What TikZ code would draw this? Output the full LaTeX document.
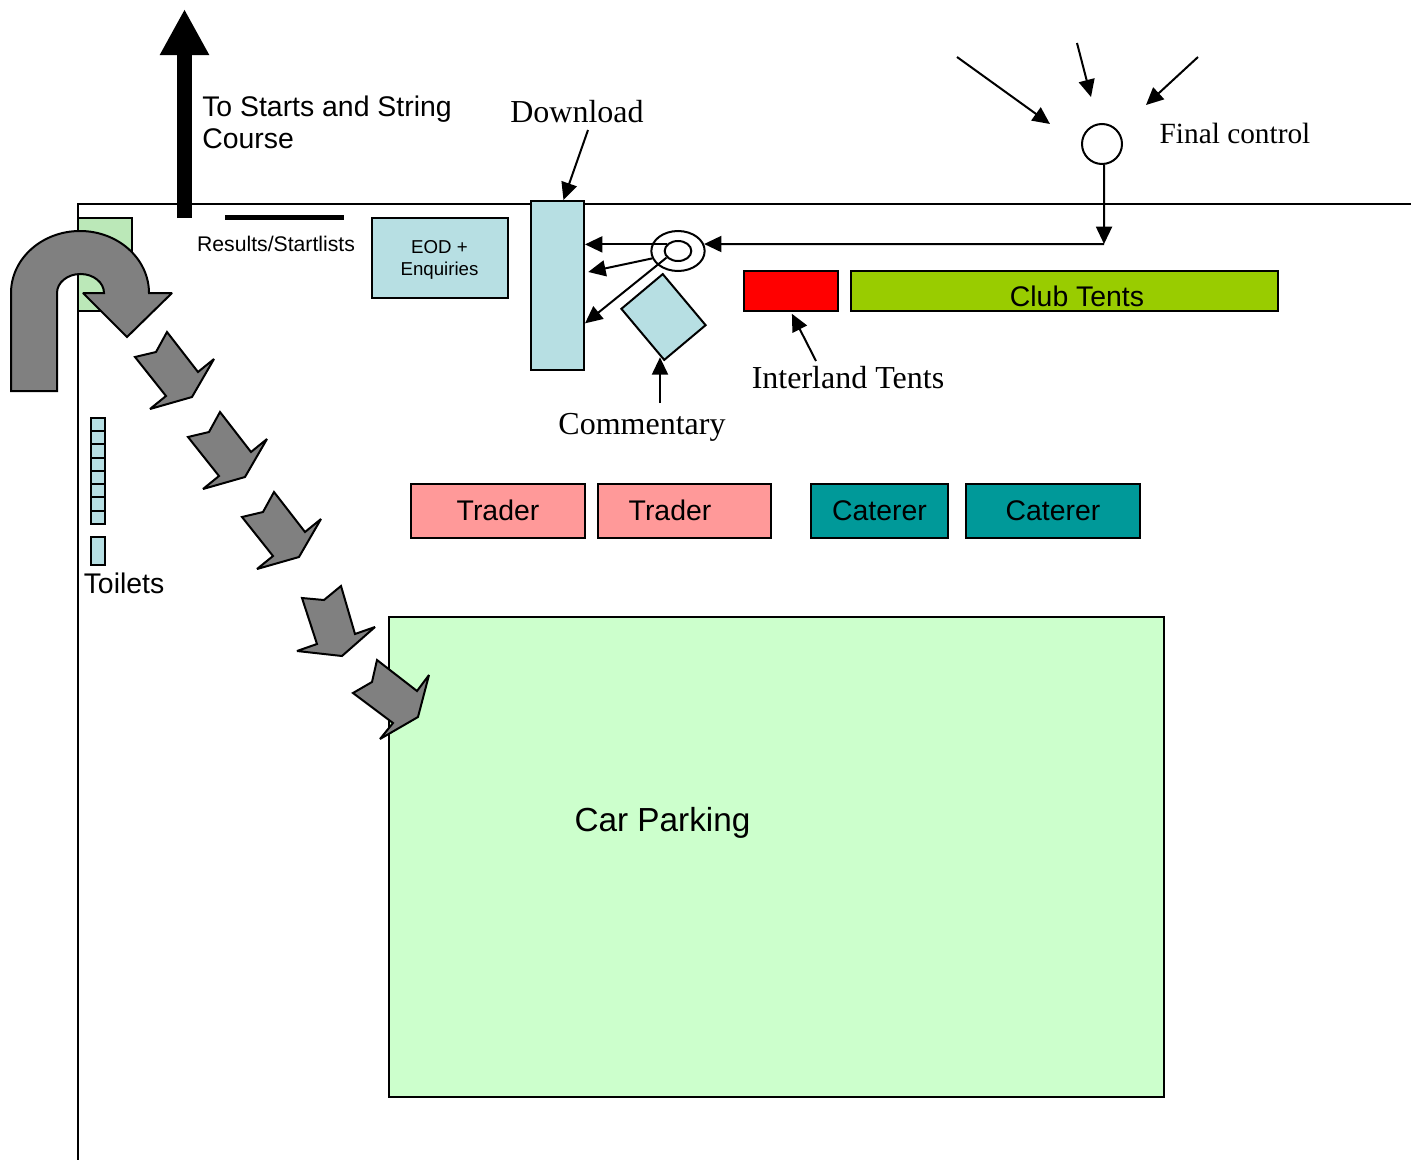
\documentclass[tikz,border=0pt]{standalone}
\usepackage{fontspec}
\setmainfont{Liberation Serif}
\setsansfont{Liberation Sans}
\usetikzlibrary{positioning, arrows.meta, shapes.geometric}
\definecolor{TentBlue}{RGB}{183,223,227}
\definecolor{EntryGreen}{RGB}{187,232,184}
\definecolor{ParkGreen}{RGB}{204,255,204}
\definecolor{ClubGreen}{RGB}{153,204,0}
\definecolor{TraderPink}{RGB}{255,153,153}
\definecolor{CatererTeal}{RGB}{0,153,153}
\definecolor{RouteGray}{RGB}{128,128,128}
\tikzstyle{pointer} = [line width=1.5pt, -{Triangle[length=13pt,width=12pt]}]
\tikzstyle{route} = [fill=RouteGray, draw=black, line width=1.5pt, line join=miter, miter limit=2.5]
\tikzset{
  stall/.style={rectangle, draw=black, line width=1.5pt, inner sep=0pt},
  sanstext/.style={font=\sffamily\fontsize{21.3pt}{24pt}\selectfont, inner sep=0pt, text depth=0.8pt},
  smalltext/.style={font=\sffamily\fontsize{#1}{16.5pt}\selectfont, inner sep=0pt, align=center},
  seriftext/.style={font=\rmfamily\fontsize{#1}{26pt}\selectfont, inner sep=0pt}
}

\begin{document}
\begin{tikzpicture}[x=0.75pt, y=-0.75pt]
    \useasboundingbox (0,0) rectangle (1421,1160);

    % Field boundary
    \draw[line width=1.5pt] (78,1160) -- (78,204) -- (1411,204);

    % Entrance box
    \node[stall, fill=EntryGreen, minimum width=40.5pt, minimum height=69.75pt] (entrybox) at (105,264.5) {};

    % U-turn arrow
    \draw[route] (11,391) -- (11,293) .. controls (11,258.8) and (41.9,231) .. (80,231)
        .. controls (118.1,231) and (149,258.8) .. (149,293) -- (172,293) -- (127,337) -- (83,293) -- (104,293)
        .. controls (104,282.5) and (93.5,274) .. (80.5,274) .. controls (67.5,274) and (57,282.5) .. (57,293)
        -- (57,391) -- cycle;

    % Route arrows
    \foreach \dx/\dy in {0/0, 53/80, 107/160}
        \draw[route, shift={(\dx,\dy)}] (167,332) -- (198,372) -- (214,359) -- (192,397) -- (150,409)
            -- (166,396) -- (135,357) -- (156,352) -- cycle;

    % Car parking
    \node[stall, fill=ParkGreen, minimum width=581.5pt, minimum height=360pt] (parkbox) at (776.25,857) {};
    \node[sanstext, text depth=0pt, font=\sffamily\fontsize{25pt}{28pt}\selectfont] (parklabel) at (662.5,819) {Car Parking};
    \draw[route] (341,586) -- (355,634) -- (375,627) -- (342,656) -- (297,651) -- (317,644) -- (302,598) -- (324,600) -- cycle;
    \draw[route] (377,660) -- (417,691) -- (429,675) -- (418,717) -- (380,739) -- (393,723) -- (353,693) -- (372,682) -- cycle;

    % To the starts
    \coordinate (startsfrom) at (184.5,218);
    \coordinate (startsto) at (184.5,9);
    \draw[line width=11.25pt, -{Triangle[length=34.5pt,width=34.5pt]}] (startsfrom) -- (startsto);
    \node[sanstext, text depth=0pt, anchor=west, align=left] (startslabel) at (202,122) {To Starts and String\\Course};

    % Results board
    \coordinate (boardleft) at (225,217);
    \coordinate (boardright) at (344,217);
    \draw[line width=3.75pt] (boardleft) -- (boardright);
    \node[smalltext=15.9pt] (resultslabel) at (276,244) {Results/Startlists};

    % EOD tent
    \node[stall, fill=TentBlue, minimum width=102pt, minimum height=60pt] (eodbox) at (440,258) {};
    \node[smalltext=14pt] (eodlabel) at (439.5,259.5) {EOD +\\Enquiries};

    % Download and commentary
    \node[stall, fill=TentBlue, minimum width=39.75pt, minimum height=126.75pt] (dlbox) at (557.5,285.5) {};
    \node[seriftext=24pt] (dllabel) at (577,112) {Download};
    \coordinate (dlfrom) at (588,130);
    \draw[pointer] (dlfrom) -- (dlbox.86);

    \node[stall, fill=TentBlue, minimum width=50pt, minimum height=40.5pt, rotate=-50] (combox) at (663.5,317) {};
    \node[seriftext=24pt] (comlabel) at (642,427) {Commentary};
    \coordinate (comfrom) at (660,403);
    \draw[pointer, shorten >=-3pt] (comfrom) -- (comfrom |- combox.south east);

    % Control point
    \node[ellipse, draw=black, line width=1.5pt, fill=white, minimum width=40pt, minimum height=30pt, inner sep=0pt] (ctrlouter) at (678,251) {};
    \node[ellipse, draw=black, line width=1.5pt, fill=white, minimum width=20pt, minimum height=15pt, inner sep=0pt] (ctrlinner) at (678,251) {};
    \draw[pointer] (ctrlinner.150) -- (ctrlinner.150 -| dlbox.east);
    \draw[pointer, shorten >=2.5pt] (ctrlouter.196) -- (dlbox.25.3);
    \draw[pointer] (ctrlinner.210) -- (dlbox.-54.8);

    % Final control
    \node[circle, draw=black, line width=1.5pt, minimum size=30pt, inner sep=0pt] (finalspot) at (1102,144) {};
    \node[seriftext=22pt] (finallabel) at (1235,133) {Final control};
    \coordinate (finalcorner) at (1104,244);
    \draw[pointer] (finalspot.-84) -- (finalcorner);
    \draw[pointer] (finalcorner) -- (ctrlouter.15.5);
    \coordinate (appleft) at (957,57);
    \coordinate (appleftend) at (1050,124);
    \coordinate (appmid) at (1077,43);
    \coordinate (appmidend) at (1091,97);
    \coordinate (appright) at (1198,57);
    \coordinate (apprightend) at (1146,105);
    \draw[pointer] (appleft) -- (appleftend);
    \draw[pointer] (appmid) -- (appmidend);
    \draw[pointer] (appright) -- (apprightend);

    % Tents
    \node[stall, fill=red, minimum width=70.5pt, minimum height=30pt] (interbox) at (791,291) {};
    \node[seriftext=24pt] (interlabel) at (848,378) {Interland Tents};
    \coordinate (interfrom) at (816,361);
    \draw[pointer, shorten >=1.5pt] (interfrom) -- (interbox.south);
    \node[stall, fill=ClubGreen, minimum width=320.25pt, minimum height=30pt] (clubbox) at (1064.5,291) {};
    \node[sanstext, text depth=0pt] (clublabel) at (1077,296) {Club Tents};

    % Traders and caterers
    \node[stall, fill=TraderPink, minimum width=130.5pt, minimum height=40.5pt, sanstext] (traderone) at (498,511) {Trader};
    \node[stall, fill=TraderPink, minimum width=129.75pt, minimum height=40.5pt] (tradertwo) at (684.5,511) {};
    \node[sanstext, text depth=0pt] (tradertwolabel) at (670,510) {Trader};
    \node[stall, fill=CatererTeal, minimum width=102.75pt, minimum height=40.5pt, sanstext] (catererone) at (879.5,511) {Caterer};
    \node[stall, fill=CatererTeal, minimum width=130.5pt, minimum height=40.5pt, sanstext] (caterertwo) at (1053,511) {Caterer};

    % Toilets
    \foreach \i in {0,...,7}
        \node[stall, fill=TentBlue, minimum width=10.5pt, minimum height=9.94pt] (toilet\i) at (98,424.6+13.25*\i) {};
    \node[stall, fill=TentBlue, minimum width=10.5pt, minimum height=21pt] (toiletend) at (98,551) {};
    \node[sanstext, text depth=0pt] (toiletlabel) at (124,583) {Toilets};
\end{tikzpicture}
\end{document}
